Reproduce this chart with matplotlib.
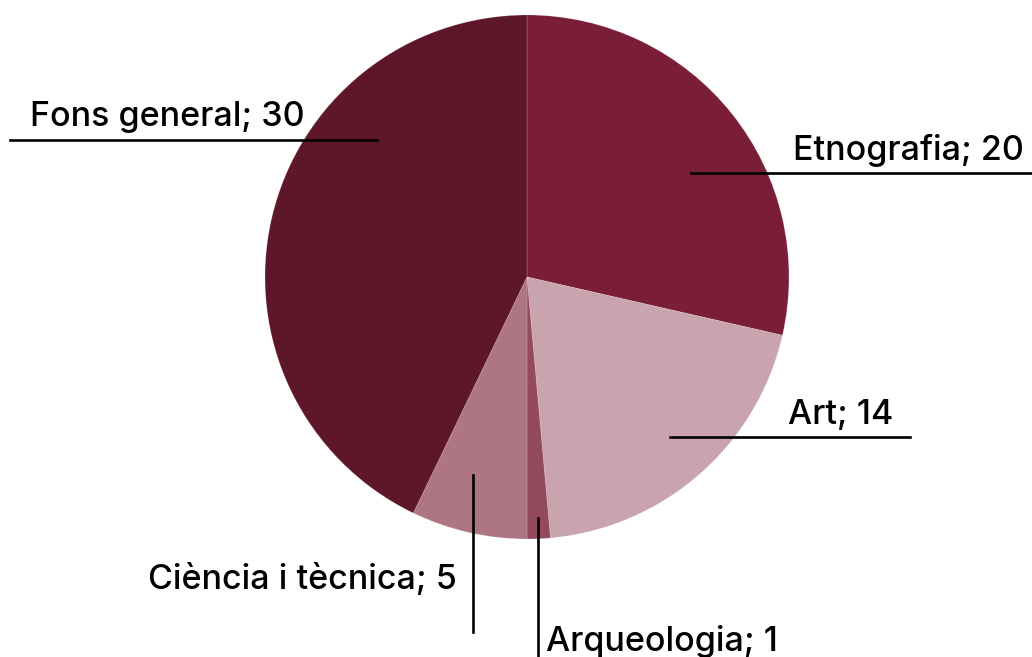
import matplotlib
matplotlib.use("Agg")
import matplotlib.pyplot as plt

# data
labels = ["Etnografia", "Art", "Arqueologia", "Ciència i tècnica", "Fons general"]
values = [20, 14, 1, 5, 30]
colors = ["#7a1d36", "#c9a3ad", "#944a5d", "#ae7683", "#5e1729"]

W, H = 1032, 657
fig = plt.figure(figsize=(W / 100, H / 100), dpi=100)
ax = fig.add_axes([0, 0, 1, 1])
ax.set_xlim(0, W)
ax.set_ylim(0, H)
ax.set_aspect("equal")
ax.axis("off")

def py(y):
    # pixel row (top down) -> axes y
    return H - y

cx, cy, r = 527, py(277), 262
ax.pie(values, colors=colors, startangle=90, counterclock=False,
       center=(cx, cy), radius=r, frame=True,
       wedgeprops=dict(linewidth=0.6, edgecolor=(1, 1, 1, 0.2)))
ax.set_xlim(0, W)
ax.set_ylim(0, H)
ax.axis("off")

plt.rcParams['font.family'] = ['Inter', 'DejaVu Sans']
fs = 24.5
fw = "medium"
lw = 1.9
txt = [f"{l}; {v}" for l, v in zip(labels, values)]

# Etnografia
ax.plot([691, W], [py(173), py(173)], color="black", lw=lw)
ax.text(1024, py(160), txt[0], ha="right", va="baseline", fontsize=fs, fontweight=fw)
# Art
ax.plot([670, 910], [py(437), py(437)], color="black", lw=lw)
ax.text(893, py(424), txt[1], ha="right", va="baseline", fontsize=fs, fontweight=fw)
# Arqueologia
ax.plot([538, 538], [py(518), 0], color="black", lw=lw)
ax.text(546, py(651), txt[2], ha="left", va="baseline", fontsize=fs, fontweight=fw)
# Ciència i tècnica
ax.plot([473, 473], [py(475), py(632)], color="black", lw=lw)
ax.text(457, py(589), txt[3], ha="right", va="baseline", fontsize=fs, fontweight=fw)
# Fons general
ax.plot([10, 377], [py(140), py(140)], color="black", lw=lw)
ax.text(30, py(126), txt[4], ha="left", va="baseline", fontsize=fs, fontweight=fw)

fig.savefig("out.png", dpi=100)
